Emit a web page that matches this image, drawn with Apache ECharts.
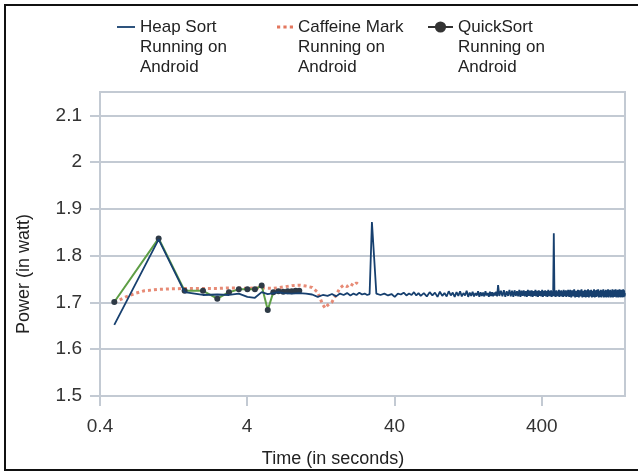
<!DOCTYPE html>
<html><head><meta charset="utf-8">
<script src="https://cdn.jsdelivr.net/npm/echarts@6/dist/echarts.min.js"></script>
<style>html,body{margin:0;padding:0;background:#fff}#c{width:638px;height:471px}</style>
</head><body><div id="c"></div>
<script>
// ---- data ----
const seriesNames = ['Heap Sort\nRunning on\nAndroid', 'Caffeine Mark\nRunning on\nAndroid', 'QuickSort\nRunning on\nAndroid'];
const xTickLabels = ['0.4', '4', '40', '400'];
const yTickLabels = ['1.5', '1.6', '1.7', '1.8', '1.9', '2', '2.1'];

const heapTime = [0.5, 1.0, 1.5, 2.0, 2.5, 3.0, 3.5, 4.0, 4.5, 5.0, 5.5, 6.0, 6.5, 7, 8, 9,
  10, 11, 12, 13, 14, 15, 16, 17, 18, 19, 20, 21, 22, 23, 24, 25, 26, 27, 28, 29, 30,
  32, 34, 36, 38, 40, 42, 44, 46, 48, 50, 52, 54, 56, 58,
  60, 63, 66, 69, 72, 75, 78, 81, 84, 87, 90, 93, 96, 99, 102, 105, 108, 111, 114, 117, 120, 123, 126, 129, 132, 135, 138, 141, 144, 147, 150, 153, 156, 159, 162, 165, 168, 171, 174, 177, 180, 183, 186, 189, 192, 195, 198,
  201,
  205, 210, 215, 220, 225, 230, 235, 240, 245, 250,
  255, 260, 265, 270, 275, 280, 285, 290, 295, 300,
  305, 310, 315, 320, 325, 330, 335, 340, 345, 350,
  355, 360, 365, 370, 375, 380, 385, 390, 395, 400,
  405, 410, 415, 420, 425, 430, 435, 440, 445, 450,
  455, 460, 465, 470, 475, 480, 485, 490, 495, 500,
  505, 510, 515, 520, 525, 530, 535, 540, 545, 550,
  555, 560, 565, 570, 575, 580, 585, 590, 595, 600,
  610, 620, 630, 640, 650, 660, 670, 680, 690, 700,
  710, 720, 730, 740, 750, 760, 770, 780, 790, 800,
  810, 820, 830, 840, 850, 860, 870, 880, 890, 900,
  910, 920, 930, 940, 950, 960, 970, 980, 990, 1000,
  1010, 1020, 1030, 1040, 1050, 1060, 1070, 1080, 1090, 1100,
  1110, 1120, 1130, 1140, 1150, 1160, 1170, 1180, 1190, 1200,
  1210, 1220, 1230, 1240, 1250, 1260, 1270, 1280, 1290, 1300,
  1310, 1320, 1330, 1340, 1350, 1360, 1370, 1380, 1390, 1400,
  1410, 1420, 1430, 1440, 1450, 1460];
const heapPower = [1.652, 1.835, 1.722, 1.716, 1.717, 1.716, 1.719, 1.712, 1.710, 1.722, 1.718, 1.720, 1.722, 1.720, 1.719, 1.720,
  1.719, 1.717, 1.712, 1.716, 1.714, 1.718, 1.713, 1.719, 1.716, 1.720, 1.715, 1.719, 1.716, 1.721, 1.717, 1.719, 1.716, 1.718, 1.872, 1.795, 1.719,
  1.716, 1.719, 1.715, 1.718, 1.712, 1.719, 1.717, 1.721, 1.715, 1.719, 1.716, 1.722, 1.715, 1.720,
  1.714, 1.720, 1.713, 1.722, 1.715, 1.721, 1.712, 1.723, 1.714, 1.720, 1.713, 1.724, 1.715, 1.721, 1.712, 1.722, 1.714, 1.724, 1.713, 1.720, 1.715, 1.725, 1.712, 1.721, 1.714, 1.723, 1.713, 1.720, 1.715, 1.724, 1.712, 1.722, 1.714, 1.721, 1.713, 1.724, 1.715, 1.720, 1.712, 1.723, 1.714, 1.722, 1.713, 1.721, 1.715, 1.723, 1.713,
  1.737,
  1.714, 1.725, 1.713, 1.726, 1.712, 1.724, 1.714, 1.727, 1.713, 1.725,
  1.712, 1.726, 1.714, 1.724, 1.713, 1.727, 1.712, 1.725, 1.714, 1.726,
  1.713, 1.724, 1.712, 1.727, 1.714, 1.725, 1.713, 1.726, 1.712, 1.724,
  1.714, 1.727, 1.713, 1.725, 1.712, 1.726, 1.714, 1.724, 1.713, 1.727,
  1.712, 1.725, 1.714, 1.726, 1.713, 1.724, 1.712, 1.727, 1.714, 1.725,
  1.713, 1.726, 1.712, 1.724, 1.714, 1.848, 1.713, 1.725, 1.712, 1.726,
  1.714, 1.724, 1.713, 1.727, 1.712, 1.725, 1.714, 1.726, 1.713, 1.724,
  1.712, 1.727, 1.714, 1.725, 1.713, 1.726, 1.712, 1.724, 1.714, 1.727,
  1.712, 1.727, 1.711, 1.726, 1.713, 1.728, 1.711, 1.725, 1.712, 1.727,
  1.711, 1.726, 1.713, 1.728, 1.711, 1.725, 1.712, 1.727, 1.711, 1.726,
  1.712, 1.728, 1.711, 1.726, 1.713, 1.727, 1.711, 1.725, 1.712, 1.728,
  1.711, 1.726, 1.712, 1.727, 1.713, 1.728, 1.711, 1.725, 1.712, 1.727,
  1.711, 1.726, 1.713, 1.728, 1.711, 1.725, 1.712, 1.727, 1.711, 1.726,
  1.712, 1.728, 1.711, 1.726, 1.713, 1.727, 1.711, 1.725, 1.712, 1.728,
  1.711, 1.726, 1.712, 1.727, 1.713, 1.728, 1.711, 1.725, 1.712, 1.727,
  1.711, 1.726, 1.713, 1.728, 1.711, 1.725, 1.712, 1.727, 1.711, 1.726,
  1.712, 1.728, 1.711, 1.726, 1.713, 1.720];

const cafTime = [0.5, 0.6, 0.7, 0.8, 1.0, 1.2, 1.5, 2, 2.5, 3, 3.5, 4, 4.5, 5, 6, 7, 8, 9, 10, 11, 12, 12.5, 13, 13.5, 14, 15, 16, 17, 18, 19, 20, 21, 22, 23];
const cafPower = [1.700, 1.712, 1.720, 1.725, 1.728, 1.729, 1.730, 1.730, 1.730, 1.731, 1.731, 1.730, 1.731, 1.731, 1.730, 1.733, 1.736, 1.737, 1.735, 1.732, 1.722, 1.708, 1.695, 1.688, 1.694, 1.701, 1.716, 1.731, 1.737, 1.734, 1.740, 1.736, 1.742, 1.737];

const qsTime = [0.5, 1.0, 1.5, 2.0, 2.5, 3.0, 3.5, 4.0, 4.5, 5.0, 5.5, 6.0, 6.5, 7.0, 7.5, 8.0, 8.5, 9.0];
const qsPower = [1.701, 1.837, 1.725, 1.725, 1.708, 1.722, 1.728, 1.728, 1.728, 1.736, 1.684, 1.722, 1.724, 1.723, 1.724, 1.724, 1.725, 1.725];

const zip = (a, b) => a.map((v, i) => [v, b[i]]);
const FONT = 'Liberation Sans, Arial, sans-serif';
const AXIS_C = '#c3cad3';
const HEAP_C = '#17406f';
const CAF_C = '#e3775e';

const chart = echarts.init(document.getElementById('c'), null, {renderer: 'canvas'});
function legendItem(item, left, itemWidth) {
  return {
    show: true, left: left, top: -23, padding: 0, itemWidth: itemWidth, itemHeight: 14,
    selectedMode: false,
    data: [item],
    formatter: function (name) { return '\n\n' + name; },
    textStyle: {fontFamily: FONT, fontSize: 17, lineHeight: 20, color: '#222'}
  };
}
chart.setOption({
  animation: false,
  backgroundColor: '#fff',
  legend: [
    legendItem({name: seriesNames[0], icon: 'path://M0,0h20v2h-20z', itemStyle: {color: HEAP_C, borderWidth: 0}}, 117, 18),
    legendItem({name: seriesNames[1], icon: 'path://M0,0h3v3h-3zM6,0h3v3h-3zM12,0h3v3h-3z', itemStyle: {color: CAF_C, borderWidth: 0}}, 277, 16),
    legendItem({name: seriesNames[2], itemStyle: {color: '#333'}, lineStyle: {color: '#333', width: 2}}, 427, 25)
  ],
  grid: {left: 100, right: 13, top: 92, bottom: 75, show: true, borderColor: AXIS_C, borderWidth: 2, containLabel: false},
  xAxis: {
    type: 'log', logBase: 10, min: 0.4, max: 1460, interval: 1,
    axisLine: {show: true, lineStyle: {color: AXIS_C, width: 2}},
    axisTick: {show: true, length: 10, lineStyle: {color: AXIS_C, width: 2}},
    splitLine: {show: false},
    minorTick: {show: false},
    axisLabel: {
      fontFamily: FONT, fontSize: 19, color: '#333', margin: 21, showMaxLabel: false,
      formatter: function (v) {
        const d = Math.log10((+v) / 0.4);
        const k = Math.round(d);
        return (Math.abs(d - k) < 0.05 && k >= 0 && k < xTickLabels.length) ? xTickLabels[k] : '';
      }
    }
  },
  yAxis: {
    type: 'value', min: 1.5, max: 2.15, interval: 0.1,
    axisLine: {show: true, lineStyle: {color: AXIS_C, width: 2}},
    axisTick: {show: true, length: 10, lineStyle: {color: AXIS_C, width: 2}},
    splitLine: {show: true, lineStyle: {color: AXIS_C, width: 2}},
    axisLabel: {
      fontFamily: FONT, fontSize: 19, color: '#333', margin: 18, showMaxLabel: false,
      formatter: function (v) {
        const s = String(+(+v).toFixed(2));
        return yTickLabels.indexOf(s) >= 0 ? s : '';
      }
    }
  },
  series: [
    {
      name: seriesNames[1], type: 'line', data: zip(cafTime, cafPower), symbol: 'none', z: 2,
      lineStyle: {color: CAF_C, width: 3, type: [3, 3], opacity: 0.85}, itemStyle: {color: CAF_C}
    },
    {
      name: seriesNames[2], type: 'line', data: zip(qsTime, qsPower), symbol: 'circle', symbolSize: 6, z: 3,
      showAllSymbol: true,
      lineStyle: {color: '#5e9e45', width: 2}, itemStyle: {color: '#2e3a46'}
    },
    {
      name: seriesNames[0], type: 'line', data: zip(heapTime, heapPower), symbol: 'none', z: 4,
      lineStyle: {color: HEAP_C, width: 1.8}, itemStyle: {color: HEAP_C}
    }
  ],
  graphic: [
    {type: 'polyline', shape: {points: [[638, 5], [5, 5], [5, 470], [638, 470]]}, style: {stroke: '#111', lineWidth: 2, fill: null}, silent: true},
    {type: 'text', x: 333, y: 459, style: {text: 'Time (in seconds)', fontFamily: FONT, fontSize: 18, fill: '#222', align: 'center', verticalAlign: 'middle'}},
    {type: 'text', x: 24, y: 274, rotation: Math.PI / 2, style: {text: 'Power (in watt)', fontFamily: FONT, fontSize: 18, fill: '#222', align: 'center', verticalAlign: 'middle'}}
  ]
});
</script></body></html>
